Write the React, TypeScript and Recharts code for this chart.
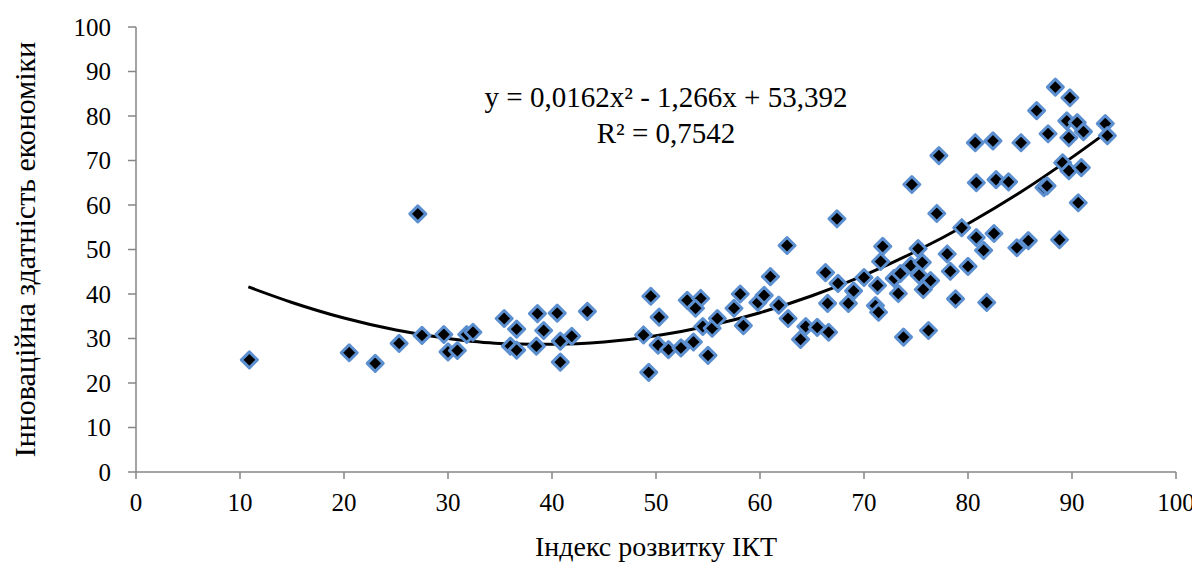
import {
  ComposedChart,
  Scatter,
  Line,
  XAxis,
  YAxis,
} from "recharts";

// Індекс розвитку ІКТ (x) та інноваційна здатність економіки (y)
const ictIndex = [
  10.9, 20.5, 23.0, 25.3, 27.1, 27.5, 29.6, 30.0, 30.9, 31.8, 32.4, 35.4, 36.0,
  36.6, 36.6, 38.6, 38.5, 39.2, 40.5, 40.8, 40.8, 41.9, 43.4,
  48.8, 49.5, 50.3, 49.3, 50.2, 51.2, 52.4, 53.0, 54.3, 53.8, 53.6, 54.5, 55.0,
  55.4, 55.9, 57.5, 58.1, 58.4, 59.8, 60.4, 61.0, 62.6, 61.8, 62.7, 63.9, 64.4,
  65.5, 66.6, 66.5, 66.3, 67.5, 67.4, 69.0, 68.5, 70.0, 71.3, 71.1, 71.4, 71.8,
  71.6, 72.9, 73.5, 73.3, 74.5, 75.2, 75.6, 75.3, 76.4, 75.7, 76.2, 73.8, 77.0,
  78.0, 78.3, 78.8, 79.4, 80.0, 80.8, 81.5, 82.5, 81.8, 84.7, 85.8, 88.8, 80.8,
  82.7, 83.9, 74.6, 77.2, 80.7, 82.4, 85.1, 87.3, 87.6, 89.1, 89.7, 90.9, 90.6,
  88.4, 89.8, 86.6, 89.5, 90.5, 93.2, 93.4, 87.7, 89.7, 91.1,
];

const innovation = [
  25.2, 26.8, 24.4, 28.9, 58.0, 30.7, 30.9, 27.0, 27.3, 30.9, 31.4, 34.5, 28.3,
  32.1, 27.4, 35.6, 28.3, 31.8, 35.7, 29.4, 24.7, 30.5, 36.1,
  30.8, 39.5, 34.8, 22.4, 28.5, 27.5, 27.9, 38.6, 39.0, 36.8, 29.2, 32.7, 26.2,
  32.3, 34.5, 36.8, 40.0, 32.9, 38.1, 39.7, 43.9, 50.9, 37.5, 34.5, 29.8, 32.7,
  32.5, 31.4, 37.9, 44.8, 42.4, 56.9, 40.7, 37.9, 43.7, 41.9, 37.4, 35.9, 50.7,
  47.3, 43.5, 44.6, 40.1, 46.4, 50.2, 47.1, 44.2, 43.0, 41.0, 31.8, 30.3, 58.1,
  49.0, 45.1, 38.9, 54.9, 46.2, 52.7, 49.8, 53.6, 38.1, 50.4, 52.0, 52.2, 65.0,
  65.7, 65.2, 64.6, 71.1, 74.0, 74.4, 74.0, 63.9, 64.3, 69.5, 67.7, 68.4, 60.5,
  86.5, 84.1, 81.2, 78.9, 78.5, 78.3, 75.6, 76.0, 75.1, 76.5,
];

// поліноміальна лінія тренду (точки, зчитані з кривої)
const trendX = [10.8, 15, 20, 25, 30, 35, 40, 45, 50, 55, 60, 65, 70, 75, 80, 85, 90, 93.2];
const trendY = [41.6, 38.1, 34.6, 31.9, 30.0, 28.9, 28.7, 29.2, 30.6, 32.8, 35.8, 39.6, 44.2, 49.6, 55.8, 62.8, 70.7, 76.1];

const xTicks = [0, 10, 20, 30, 40, 50, 60, 70, 80, 90, 100];
const yTicks = [0, 10, 20, 30, 40, 50, 60, 70, 80, 90, 100];

const points = ictIndex.map((x, i) => ({ x, y: innovation[i] }));
const trend = trendX.map((x, i) => ({ x, t: trendY[i] }));

const serif = "'Liberation Serif', 'Times New Roman', serif";
const axisColor = "#868686";

const Diamond = (props: any) => {
  const { cx, cy } = props;
  if (cx == null || cy == null) return null;
  const r = 8;
  return (
    <polygon
      points={`${cx},${cy - r} ${cx + r},${cy} ${cx},${cy + r} ${cx - r},${cy}`}
      fill="#000"
      stroke="#5b8fd0"
      strokeWidth={3}
      strokeLinejoin="round"
    />
  );
};

export default function App() {
  return (
    <div style={{ position: "relative", width: 1192, height: 557 }}>
      <ComposedChart
        width={1192}
        height={557}
        margin={{ top: 19, right: 24, bottom: 0, left: 8 }}
      >
        <XAxis
          type="number"
          dataKey="x"
          domain={[0, 100]}
          ticks={xTicks}
          interval={0}
          height={93}
          tickSize={7}
          tickMargin={14}
          stroke={axisColor}
          strokeWidth={1.5}
          tick={{ fill: "#000", fontSize: 25, fontFamily: serif }}
          label={{
            value: "Індекс розвитку ІКТ",
            position: "insideBottom",
            offset: 9,
            style: { fill: "#000", fontSize: 28, fontFamily: serif },
          }}
        />
        <YAxis
          type="number"
          domain={[0, 100]}
          ticks={yTicks}
          interval={0}
          width={120}
          tickSize={8}
          tickMargin={17}
          stroke={axisColor}
          strokeWidth={1.5}
          tick={{ fill: "#000", fontSize: 25, fontFamily: serif }}
          label={{
            value: "Інноваційна здатність економіки",
            angle: -90,
            position: "insideLeft",
            offset: 8,
            style: {
              fill: "#000",
              fontSize: 30,
              fontFamily: serif,
              textAnchor: "middle",
            },
          }}
        />
        <Scatter
          data={points}
          dataKey="y"
          shape={<Diamond />}
          isAnimationActive={false}
        />
        <Line
          data={trend}
          dataKey="t"
          type="monotone"
          stroke="#000"
          strokeWidth={3}
          dot={false}
          activeDot={false}
          isAnimationActive={false}
        />
      </ComposedChart>
      <div
        style={{
          position: "absolute",
          left: 658,
          top: 71,
          transform: "translateX(-50%)",
          textAlign: "center",
          fontFamily: serif,
          fontSize: 29,
          lineHeight: "36px",
          whiteSpace: "nowrap",
          color: "#000",
        }}
      >
        <div>y = 0,0162x² - 1,266x + 53,392</div>
        <div>R² = 0,7542</div>
      </div>
    </div>
  );
}
